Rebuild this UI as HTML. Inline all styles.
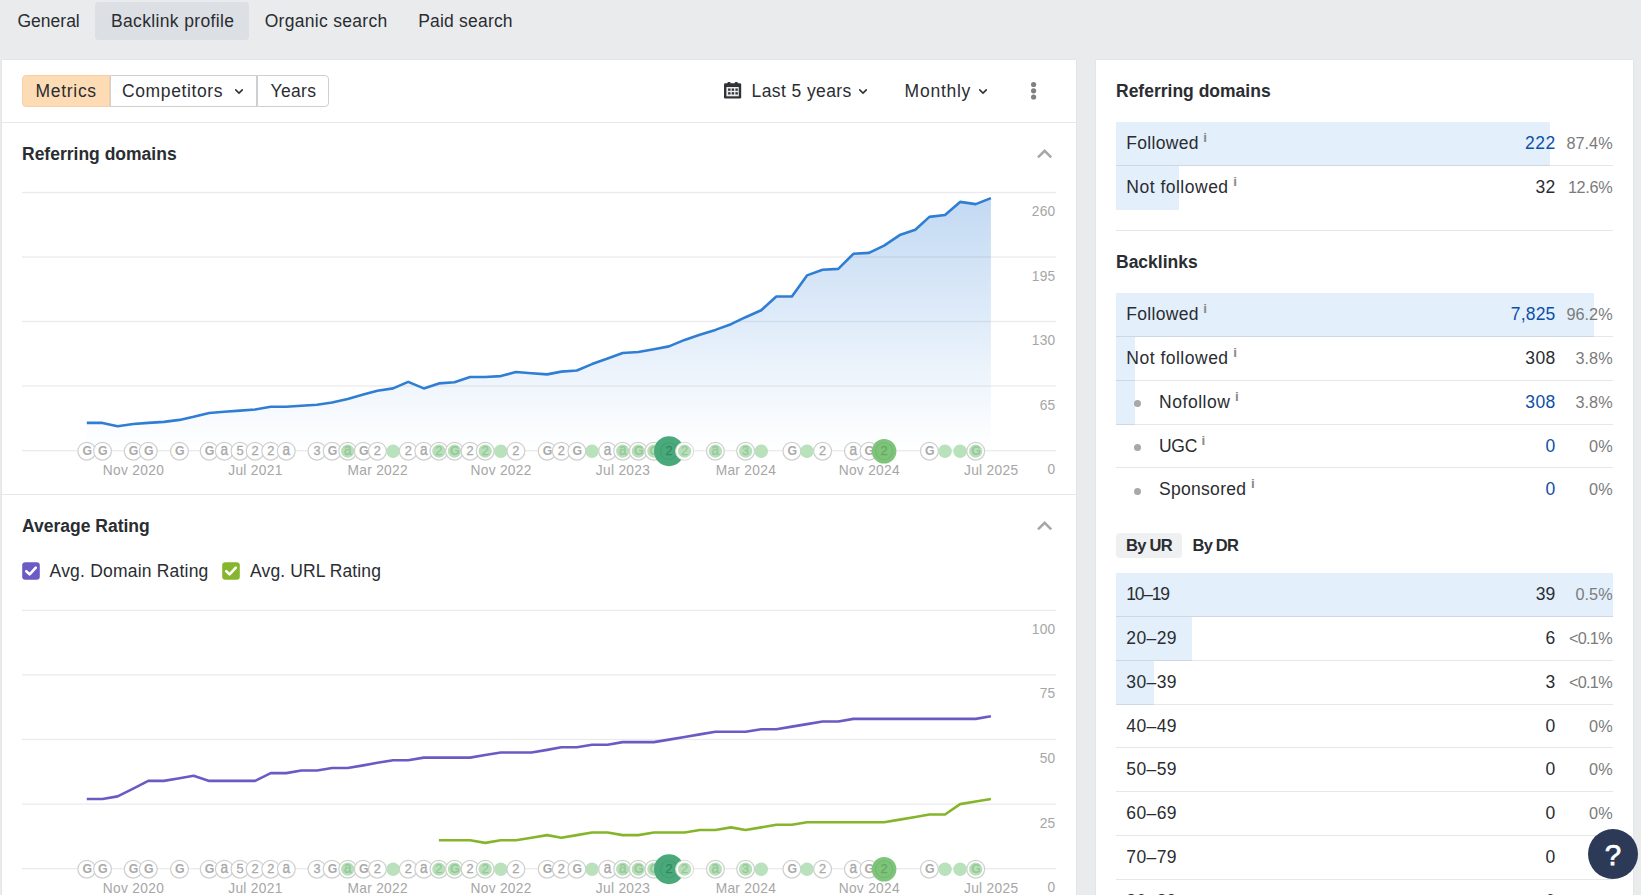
<!DOCTYPE html>
<html><head><meta charset="utf-8"><title>Backlink profile</title>
<style>
*{margin:0;padding:0;box-sizing:border-box}
html,body{width:1641px;height:895px;overflow:hidden;background:#e9ebed;font-family:"Liberation Sans",sans-serif}
body{position:relative}
.t{position:absolute;line-height:20px;white-space:nowrap}
.card{position:absolute;background:#fff;box-shadow:0 0 1.5px rgba(0,0,0,0.10)}
.tabbg{position:absolute;left:95px;top:2px;width:154px;height:38px;border-radius:4px;background:#dcdfe3}
.hline{position:absolute;height:1px;background:#e7e8e9}
.rline{position:absolute;height:1px;background:rgba(0,0,0,0.095)}
.btn{position:absolute;background:#fff;border:1.25px solid #cfcfcf}
.btn.metrics{background:#fddcb5;border-color:#f8cfa4;border-radius:4px 0 0 4px}
.btn.last{border-radius:0 4px 4px 0}
.ic{position:absolute;overflow:visible}
.charts{position:absolute;left:0;top:0}
.bar{position:absolute;background:#e3effb}
.dot{position:absolute;width:7px;height:7px;border-radius:50%;background:#a8a8a8}
.inf{font-style:normal;font-size:13.5px;color:#8a8a8a;position:relative;top:-7.3px;margin-left:4.6px;font-weight:700;letter-spacing:0}
.pill{position:absolute;background:#eff0f1;border-radius:4px}
.help{position:absolute;left:1588px;top:829px;width:50px;height:50px;border-radius:50%;background:#2c3a57;color:#fff;text-align:center}
.help span{font-size:29.5px;font-weight:400;-webkit-text-stroke:0.75px #fff;line-height:51px;display:block}
</style></head>
<body>
<div class="tabbg"></div>
<span class="t" style="left:17.5px;top:11.00px;font-size:17.5px;font-weight:400;color:#2a2d31;">General</span>
<span class="t" style="left:111px;top:11.00px;font-size:17.5px;font-weight:400;color:#2a2d31;letter-spacing:0.35px;">Backlink profile</span>
<span class="t" style="left:264.7px;top:11.00px;font-size:17.5px;font-weight:400;color:#2a2d31;letter-spacing:0.3px;">Organic search</span>
<span class="t" style="left:418.2px;top:11.00px;font-size:17.5px;font-weight:400;color:#2a2d31;letter-spacing:0.2px;">Paid search</span>
<div class="card" style="left:2px;top:60px;width:1074px;height:840px"></div>
<div class="hline" style="left:2px;top:122px;width:1074px"></div>
<div class="hline" style="left:2px;top:494px;width:1074px"></div>
<div class="btn metrics" style="left:22px;top:75px;width:88px;height:32px"></div>
<div class="btn" style="left:109.6px;top:75px;width:147.7px;height:32px"></div>
<div class="btn last" style="left:257.3px;top:75px;width:71.6px;height:32px"></div>
<span class="t" style="left:35.6px;top:81.00px;font-size:17.5px;font-weight:400;color:#2a2d31;letter-spacing:0.68px;">Metrics</span>
<span class="t" style="left:122.0px;top:81.00px;font-size:17.5px;font-weight:400;color:#2a2d31;letter-spacing:0.62px;">Competitors</span>
<span class="t" style="left:270.5px;top:81.00px;font-size:17.5px;font-weight:400;color:#2a2d31;letter-spacing:0.35px;">Years</span>
<svg class="ic" style="left:233px;top:87px" width="12" height="9" viewBox="0 0 12 9"><path d="M2.7 2.9 L6 6.1 L9.3 2.9" fill="none" stroke="#333" stroke-width="1.55" stroke-linecap="round" stroke-linejoin="round"/></svg>
<svg class="ic" style="left:724px;top:81.6px" width="17.2" height="16.6" viewBox="0 0 17.2 16.6"><rect x="0" y="1.3" width="17.2" height="15.3" rx="1.3" fill="#2f3237"/><rect x="3.5" y="0" width="3" height="2.4" rx="0.8" fill="#2f3237"/><rect x="10.8" y="0" width="3" height="2.4" rx="0.8" fill="#2f3237"/><rect x="2.4" y="5" width="12.4" height="9.3" fill="#ededed"/><g fill="#2f3237"><rect x="4.1" y="6.5" width="2.4" height="2.3"/><rect x="7.7" y="6.5" width="2.4" height="2.3"/><rect x="11.4" y="6.5" width="2.4" height="2.3"/><rect x="4.1" y="10.2" width="2.4" height="2.3"/><rect x="7.7" y="10.2" width="2.4" height="2.3"/><rect x="11.4" y="10.2" width="2.4" height="2.3"/></g></svg>
<span class="t" style="left:751.6px;top:81.00px;font-size:17.5px;font-weight:400;color:#2a2d31;letter-spacing:0.4px;">Last 5 years</span>
<svg class="ic" style="left:857px;top:87px" width="12" height="9" viewBox="0 0 12 9"><path d="M2.7 2.9 L6 6.1 L9.3 2.9" fill="none" stroke="#333" stroke-width="1.55" stroke-linecap="round" stroke-linejoin="round"/></svg>
<span class="t" style="left:904.6px;top:81.00px;font-size:17.5px;font-weight:400;color:#2a2d31;letter-spacing:0.75px;">Monthly</span>
<svg class="ic" style="left:977px;top:87px" width="12" height="9" viewBox="0 0 12 9"><path d="M2.7 2.9 L6 6.1 L9.3 2.9" fill="none" stroke="#333" stroke-width="1.55" stroke-linecap="round" stroke-linejoin="round"/></svg>
<svg class="ic" style="left:1029px;top:80px" width="10" height="22" viewBox="0 0 10 22"><circle cx="4.6" cy="4.5" r="2.6" fill="#808080"/><circle cx="4.6" cy="10.8" r="2.6" fill="#808080"/><circle cx="4.6" cy="17.0" r="2.6" fill="#808080"/></svg>
<span class="t" style="left:22px;top:144.00px;font-size:17.5px;font-weight:700;color:#2a2d31;">Referring domains</span>
<span class="t" style="left:22px;top:516.00px;font-size:17.5px;font-weight:700;color:#2a2d31;">Average Rating</span>
<svg class="ic" style="left:1035px;top:146.8px" width="19" height="14" viewBox="0 0 19 14"><path d="M3 10.3 L9.6 3.8 L16.2 10.3" fill="none" stroke="#a6a6a6" stroke-width="2.5" stroke-linecap="butt" stroke-linejoin="miter"/></svg>
<svg class="ic" style="left:1035px;top:518.8px" width="19" height="14" viewBox="0 0 19 14"><path d="M3 10.3 L9.6 3.8 L16.2 10.3" fill="none" stroke="#a6a6a6" stroke-width="2.5" stroke-linecap="butt" stroke-linejoin="miter"/></svg>
<svg class="ic" style="left:22px;top:562px" width="18" height="18" viewBox="0 0 18 18"><rect x="0.2" y="0.2" width="17.6" height="17.6" rx="3.2" fill="#6b5cc5"/><path d="M4.3 9.2 L7.6 12.4 L13.8 5.6" fill="none" stroke="#fff" stroke-width="2.6" stroke-linecap="round" stroke-linejoin="round"/></svg>
<span class="t" style="left:49.6px;top:561.00px;font-size:17.5px;font-weight:400;color:#2a2d31;letter-spacing:0.2px;">Avg. Domain Rating</span>
<svg class="ic" style="left:222px;top:562px" width="18" height="18" viewBox="0 0 18 18"><rect x="0.2" y="0.2" width="17.6" height="17.6" rx="3.2" fill="#86b62c"/><path d="M4.3 9.2 L7.6 12.4 L13.8 5.6" fill="none" stroke="#fff" stroke-width="2.6" stroke-linecap="round" stroke-linejoin="round"/></svg>
<span class="t" style="left:250.1px;top:561.00px;font-size:17.5px;font-weight:400;color:#2a2d31;letter-spacing:0.1px;">Avg. URL Rating</span>
<svg class="charts" width="1076" height="895" viewBox="0 0 1076 895" font-family="Liberation Sans, sans-serif">
<defs>
<linearGradient id="ag" gradientUnits="userSpaceOnUse" x1="0" y1="192" x2="0" y2="450">
<stop offset="0" stop-color="#3d86d6" stop-opacity="0.32"/>
<stop offset="0.5" stop-color="#4a8fdc" stop-opacity="0.175"/>
<stop offset="1" stop-color="#5a98e0" stop-opacity="0.0"/>
</linearGradient>
</defs>
<rect x="22" y="191.85" width="1034" height="1.3" fill="#ebebeb"/>
<rect x="22" y="256.35" width="1034" height="1.3" fill="#ebebeb"/>
<rect x="22" y="320.85" width="1034" height="1.3" fill="#ebebeb"/>
<rect x="22" y="385.35" width="1034" height="1.3" fill="#ebebeb"/>
<rect x="22" y="450.05" width="1034" height="1.3" fill="#ebebeb"/>
<path d="M86.8,422.9 L102.5,422.9 L117.6,426.3 L133.2,424.0 L148.3,422.9 L163.9,421.9 L179.5,419.9 L193.6,416.8 L209.2,413.0 L224.3,411.8 L240.0,410.6 L255.1,409.5 L270.7,406.8 L286.3,406.8 L301.4,405.7 L317.0,404.8 L332.1,402.5 L347.7,399.1 L363.3,394.5 L377.4,390.7 L393.1,388.4 L408.2,381.9 L423.8,388.4 L438.9,383.4 L454.5,382.2 L470.1,377.0 L485.2,377.0 L500.8,376.1 L515.9,372.0 L531.5,373.2 L547.2,374.4 L561.3,371.6 L576.9,370.5 L592.0,364.1 L607.6,358.6 L622.7,353.0 L638.3,352.0 L653.9,349.2 L669.0,346.4 L684.6,339.9 L699.8,334.7 L715.4,329.9 L731.0,324.2 L745.6,317.2 L761.2,310.2 L776.3,296.5 L791.9,296.5 L807.0,275.4 L822.6,269.8 L838.3,268.9 L853.4,253.8 L869.0,252.9 L884.1,245.7 L899.7,235.1 L915.3,229.7 L929.4,216.9 L945.0,215.0 L960.1,201.9 L975.7,204.1 L990.9,198.1 L990.9,450.7 L86.8,450.7 Z" fill="url(#ag)"/>
<path d="M86.8,422.9 L102.5,422.9 L117.6,426.3 L133.2,424.0 L148.3,422.9 L163.9,421.9 L179.5,419.9 L193.6,416.8 L209.2,413.0 L224.3,411.8 L240.0,410.6 L255.1,409.5 L270.7,406.8 L286.3,406.8 L301.4,405.7 L317.0,404.8 L332.1,402.5 L347.7,399.1 L363.3,394.5 L377.4,390.7 L393.1,388.4 L408.2,381.9 L423.8,388.4 L438.9,383.4 L454.5,382.2 L470.1,377.0 L485.2,377.0 L500.8,376.1 L515.9,372.0 L531.5,373.2 L547.2,374.4 L561.3,371.6 L576.9,370.5 L592.0,364.1 L607.6,358.6 L622.7,353.0 L638.3,352.0 L653.9,349.2 L669.0,346.4 L684.6,339.9 L699.8,334.7 L715.4,329.9 L731.0,324.2 L745.6,317.2 L761.2,310.2 L776.3,296.5 L791.9,296.5 L807.0,275.4 L822.6,269.8 L838.3,268.9 L853.4,253.8 L869.0,252.9 L884.1,245.7 L899.7,235.1 L915.3,229.7 L929.4,216.9 L945.0,215.0 L960.1,201.9 L975.7,204.1 L990.9,198.1" fill="none" stroke="#2f7ed3" stroke-width="2.6" stroke-linejoin="round" stroke-linecap="butt"/>
<text x="1055.5" y="216.0" font-size="13.75" fill="#a6a6a6" text-anchor="end" letter-spacing="0.25">260</text>
<text x="1055.5" y="280.5" font-size="13.75" fill="#a6a6a6" text-anchor="end" letter-spacing="0.25">195</text>
<text x="1055.5" y="345.0" font-size="13.75" fill="#a6a6a6" text-anchor="end" letter-spacing="0.25">130</text>
<text x="1055.5" y="409.5" font-size="13.75" fill="#a6a6a6" text-anchor="end" letter-spacing="0.25">65</text>
<text x="1055.5" y="474.2" font-size="13.75" fill="#a6a6a6" text-anchor="end" letter-spacing="0.25">0</text>
<circle cx="86.8" cy="451.2" r="8.9" fill="#fff" stroke="#cfcfcf" stroke-width="1.2"/>
<text x="87.2" y="454.7" font-size="12.3" font-weight="700" fill="#a9a9a9" text-anchor="middle">G</text>
<circle cx="102.5" cy="451.2" r="8.9" fill="#fff" stroke="#cfcfcf" stroke-width="1.2"/>
<text x="102.9" y="454.7" font-size="12.3" font-weight="700" fill="#a9a9a9" text-anchor="middle">G</text>
<circle cx="133.2" cy="451.2" r="8.9" fill="#fff" stroke="#cfcfcf" stroke-width="1.2"/>
<text x="133.6" y="454.7" font-size="12.3" font-weight="700" fill="#a9a9a9" text-anchor="middle">G</text>
<circle cx="148.3" cy="451.2" r="8.9" fill="#fff" stroke="#cfcfcf" stroke-width="1.2"/>
<text x="148.7" y="454.7" font-size="12.3" font-weight="700" fill="#a9a9a9" text-anchor="middle">G</text>
<circle cx="179.5" cy="451.2" r="8.9" fill="#fff" stroke="#cfcfcf" stroke-width="1.2"/>
<text x="179.9" y="454.7" font-size="12.3" font-weight="700" fill="#a9a9a9" text-anchor="middle">G</text>
<circle cx="209.2" cy="451.2" r="8.9" fill="#fff" stroke="#cfcfcf" stroke-width="1.2"/>
<text x="209.6" y="454.7" font-size="12.3" font-weight="700" fill="#a9a9a9" text-anchor="middle">G</text>
<circle cx="224.3" cy="451.2" r="8.9" fill="#fff" stroke="#cfcfcf" stroke-width="1.2"/>
<text transform="translate(224.3,455.0) scale(0.83,1)" font-size="16.4" font-weight="400" fill="#a9a9a9" stroke="#a9a9a9" stroke-width="0.4" text-anchor="middle">a</text>
<circle cx="240.0" cy="451.2" r="8.9" fill="#fff" stroke="#cfcfcf" stroke-width="1.2"/>
<text x="240.0" y="454.7" font-size="12.8" font-weight="400" fill="#a9a9a9" stroke="#a9a9a9" stroke-width="0.3" text-anchor="middle">5</text>
<circle cx="255.1" cy="451.2" r="8.9" fill="#fff" stroke="#cfcfcf" stroke-width="1.2"/>
<text x="255.1" y="454.7" font-size="12.8" font-weight="400" fill="#a9a9a9" stroke="#a9a9a9" stroke-width="0.3" text-anchor="middle">2</text>
<circle cx="270.7" cy="451.2" r="8.9" fill="#fff" stroke="#cfcfcf" stroke-width="1.2"/>
<text x="270.7" y="454.7" font-size="12.8" font-weight="400" fill="#a9a9a9" stroke="#a9a9a9" stroke-width="0.3" text-anchor="middle">2</text>
<circle cx="286.3" cy="451.2" r="8.9" fill="#fff" stroke="#cfcfcf" stroke-width="1.2"/>
<text transform="translate(286.3,455.0) scale(0.83,1)" font-size="16.4" font-weight="400" fill="#a9a9a9" stroke="#a9a9a9" stroke-width="0.4" text-anchor="middle">a</text>
<circle cx="317.0" cy="451.2" r="8.9" fill="#fff" stroke="#cfcfcf" stroke-width="1.2"/>
<text x="317.0" y="454.7" font-size="12.8" font-weight="400" fill="#a9a9a9" stroke="#a9a9a9" stroke-width="0.3" text-anchor="middle">3</text>
<circle cx="332.1" cy="451.2" r="8.9" fill="#fff" stroke="#cfcfcf" stroke-width="1.2"/>
<text x="332.5" y="454.7" font-size="12.3" font-weight="700" fill="#a9a9a9" text-anchor="middle">G</text>
<circle cx="347.7" cy="451.2" r="8.9" fill="#fff" stroke="#cfcfcf" stroke-width="1.2"/>
<circle cx="347.7" cy="451.2" r="6.6" fill="#b7e0b9"/>
<text transform="translate(347.7,455.0) scale(0.83,1)" font-size="16.4" font-weight="400" fill="#98c79b" stroke="#98c79b" stroke-width="0.4" text-anchor="middle">a</text>
<circle cx="363.3" cy="451.2" r="8.9" fill="#fff" stroke="#cfcfcf" stroke-width="1.2"/>
<text x="363.7" y="454.7" font-size="12.3" font-weight="700" fill="#a9a9a9" text-anchor="middle">G</text>
<circle cx="377.4" cy="451.2" r="8.9" fill="#fff" stroke="#cfcfcf" stroke-width="1.2"/>
<text x="377.4" y="454.7" font-size="12.8" font-weight="400" fill="#a9a9a9" stroke="#a9a9a9" stroke-width="0.3" text-anchor="middle">2</text>
<circle cx="393.1" cy="451.2" r="6.8" fill="#b9e1bb"/>
<circle cx="408.2" cy="451.2" r="8.9" fill="#fff" stroke="#cfcfcf" stroke-width="1.2"/>
<text x="408.2" y="454.7" font-size="12.8" font-weight="400" fill="#a9a9a9" stroke="#a9a9a9" stroke-width="0.3" text-anchor="middle">2</text>
<circle cx="423.8" cy="451.2" r="8.9" fill="#fff" stroke="#cfcfcf" stroke-width="1.2"/>
<text transform="translate(423.8,455.0) scale(0.83,1)" font-size="16.4" font-weight="400" fill="#a9a9a9" stroke="#a9a9a9" stroke-width="0.4" text-anchor="middle">a</text>
<circle cx="438.9" cy="451.2" r="8.9" fill="#fff" stroke="#cfcfcf" stroke-width="1.2"/>
<circle cx="438.9" cy="451.2" r="6.6" fill="#b7e0b9"/>
<text x="438.9" y="454.7" font-size="12.8" font-weight="400" fill="#98c79b" stroke="#98c79b" stroke-width="0.3" text-anchor="middle">2</text>
<circle cx="454.5" cy="451.2" r="8.9" fill="#fff" stroke="#cfcfcf" stroke-width="1.2"/>
<circle cx="454.5" cy="451.2" r="6.6" fill="#b7e0b9"/>
<text x="454.9" y="454.7" font-size="12.3" font-weight="700" fill="#98c79b" text-anchor="middle">G</text>
<circle cx="470.1" cy="451.2" r="8.9" fill="#fff" stroke="#cfcfcf" stroke-width="1.2"/>
<text x="470.1" y="454.7" font-size="12.8" font-weight="400" fill="#a9a9a9" stroke="#a9a9a9" stroke-width="0.3" text-anchor="middle">2</text>
<circle cx="485.2" cy="451.2" r="8.9" fill="#fff" stroke="#cfcfcf" stroke-width="1.2"/>
<circle cx="485.2" cy="451.2" r="6.6" fill="#b7e0b9"/>
<text x="485.2" y="454.7" font-size="12.8" font-weight="400" fill="#98c79b" stroke="#98c79b" stroke-width="0.3" text-anchor="middle">2</text>
<circle cx="500.8" cy="451.2" r="6.8" fill="#b9e1bb"/>
<circle cx="515.9" cy="451.2" r="8.9" fill="#fff" stroke="#cfcfcf" stroke-width="1.2"/>
<text x="515.9" y="454.7" font-size="12.8" font-weight="400" fill="#a9a9a9" stroke="#a9a9a9" stroke-width="0.3" text-anchor="middle">2</text>
<circle cx="547.2" cy="451.2" r="8.9" fill="#fff" stroke="#cfcfcf" stroke-width="1.2"/>
<text x="547.6" y="454.7" font-size="12.3" font-weight="700" fill="#a9a9a9" text-anchor="middle">G</text>
<circle cx="561.3" cy="451.2" r="8.9" fill="#fff" stroke="#cfcfcf" stroke-width="1.2"/>
<text x="561.3" y="454.7" font-size="12.8" font-weight="400" fill="#a9a9a9" stroke="#a9a9a9" stroke-width="0.3" text-anchor="middle">2</text>
<circle cx="576.9" cy="451.2" r="8.9" fill="#fff" stroke="#cfcfcf" stroke-width="1.2"/>
<text x="577.3" y="454.7" font-size="12.3" font-weight="700" fill="#a9a9a9" text-anchor="middle">G</text>
<circle cx="592.0" cy="451.2" r="6.8" fill="#b9e1bb"/>
<circle cx="607.6" cy="451.2" r="8.9" fill="#fff" stroke="#cfcfcf" stroke-width="1.2"/>
<text transform="translate(607.6,455.0) scale(0.83,1)" font-size="16.4" font-weight="400" fill="#a9a9a9" stroke="#a9a9a9" stroke-width="0.4" text-anchor="middle">a</text>
<circle cx="622.7" cy="451.2" r="8.9" fill="#fff" stroke="#cfcfcf" stroke-width="1.2"/>
<circle cx="622.7" cy="451.2" r="6.6" fill="#b7e0b9"/>
<text transform="translate(622.7,455.0) scale(0.83,1)" font-size="16.4" font-weight="400" fill="#98c79b" stroke="#98c79b" stroke-width="0.4" text-anchor="middle">a</text>
<circle cx="638.3" cy="451.2" r="8.9" fill="#fff" stroke="#cfcfcf" stroke-width="1.2"/>
<circle cx="638.3" cy="451.2" r="6.6" fill="#b7e0b9"/>
<text x="638.7" y="454.7" font-size="12.3" font-weight="700" fill="#98c79b" text-anchor="middle">G</text>
<circle cx="653.9" cy="451.2" r="8.9" fill="#fff" stroke="#cfcfcf" stroke-width="1.2"/>
<circle cx="653.9" cy="451.2" r="6.6" fill="#b7e0b9"/>
<text x="654.3" y="454.7" font-size="12.3" font-weight="700" fill="#98c79b" text-anchor="middle">G</text>
<circle cx="669.0" cy="451.2" r="15" fill="#4aa97a"/>
<circle cx="669.0" cy="451.2" r="8.5" fill="none" stroke="#41a072" stroke-width="1.1"/>
<text x="669.0" y="454.7" font-size="12.8" font-weight="400" fill="#2f8a5f" stroke="#2f8a5f" stroke-width="0.3" text-anchor="middle">2</text>
<circle cx="684.6" cy="451.2" r="9" fill="#fff" stroke="#d8d8d8" stroke-width="1"/>
<circle cx="684.6" cy="451.2" r="6.6" fill="#b7e0b9"/>
<text x="684.6" y="454.7" font-size="12.8" font-weight="400" fill="#98c79b" stroke="#98c79b" stroke-width="0.3" text-anchor="middle">2</text>
<circle cx="715.4" cy="451.2" r="8.9" fill="#fff" stroke="#cfcfcf" stroke-width="1.2"/>
<circle cx="715.4" cy="451.2" r="6.6" fill="#b7e0b9"/>
<text transform="translate(715.4,455.0) scale(0.83,1)" font-size="16.4" font-weight="400" fill="#98c79b" stroke="#98c79b" stroke-width="0.4" text-anchor="middle">a</text>
<circle cx="745.6" cy="451.2" r="8.9" fill="#fff" stroke="#cfcfcf" stroke-width="1.2"/>
<circle cx="745.6" cy="451.2" r="6.6" fill="#b7e0b9"/>
<text x="745.6" y="454.7" font-size="12.8" font-weight="400" fill="#98c79b" stroke="#98c79b" stroke-width="0.3" text-anchor="middle">3</text>
<circle cx="761.2" cy="451.2" r="6.8" fill="#b9e1bb"/>
<circle cx="791.9" cy="451.2" r="8.9" fill="#fff" stroke="#cfcfcf" stroke-width="1.2"/>
<text x="792.3" y="454.7" font-size="12.3" font-weight="700" fill="#a9a9a9" text-anchor="middle">G</text>
<circle cx="807.0" cy="451.2" r="6.8" fill="#b9e1bb"/>
<circle cx="822.6" cy="451.2" r="8.9" fill="#fff" stroke="#cfcfcf" stroke-width="1.2"/>
<text x="822.6" y="454.7" font-size="12.8" font-weight="400" fill="#a9a9a9" stroke="#a9a9a9" stroke-width="0.3" text-anchor="middle">2</text>
<circle cx="853.4" cy="451.2" r="8.9" fill="#fff" stroke="#cfcfcf" stroke-width="1.2"/>
<text transform="translate(853.4,455.0) scale(0.83,1)" font-size="16.4" font-weight="400" fill="#a9a9a9" stroke="#a9a9a9" stroke-width="0.4" text-anchor="middle">a</text>
<circle cx="869.0" cy="451.2" r="8.9" fill="#fff" stroke="#cfcfcf" stroke-width="1.2"/>
<text x="869.4" y="454.7" font-size="12.3" font-weight="700" fill="#a9a9a9" text-anchor="middle">G</text>
<circle cx="884.1" cy="451.2" r="12.3" fill="#7fc47b"/>
<circle cx="884.1" cy="451.2" r="8.5" fill="none" stroke="#74b970" stroke-width="1.1"/>
<text x="884.1" y="454.7" font-size="12.8" font-weight="400" fill="#63a95f" stroke="#63a95f" stroke-width="0.3" text-anchor="middle">2</text>
<circle cx="929.4" cy="451.2" r="8.9" fill="#fff" stroke="#cfcfcf" stroke-width="1.2"/>
<text x="929.8" y="454.7" font-size="12.3" font-weight="700" fill="#a9a9a9" text-anchor="middle">G</text>
<circle cx="945.0" cy="451.2" r="6.8" fill="#b9e1bb"/>
<circle cx="960.1" cy="451.2" r="6.8" fill="#b9e1bb"/>
<circle cx="975.7" cy="451.2" r="8.9" fill="#fff" stroke="#cfcfcf" stroke-width="1.2"/>
<circle cx="975.7" cy="451.2" r="6.6" fill="#b7e0b9"/>
<text x="976.1" y="454.7" font-size="12.3" font-weight="700" fill="#98c79b" text-anchor="middle">G</text>
<text x="133.5" y="474.9" font-size="13.75" fill="#a6a6a6" text-anchor="middle" letter-spacing="0.3">Nov 2020</text>
<text x="255.4" y="474.9" font-size="13.75" fill="#a6a6a6" text-anchor="middle" letter-spacing="0.3">Jul 2021</text>
<text x="377.7" y="474.9" font-size="13.75" fill="#a6a6a6" text-anchor="middle" letter-spacing="0.3">Mar 2022</text>
<text x="501.1" y="474.9" font-size="13.75" fill="#a6a6a6" text-anchor="middle" letter-spacing="0.3">Nov 2022</text>
<text x="623.0" y="474.9" font-size="13.75" fill="#a6a6a6" text-anchor="middle" letter-spacing="0.3">Jul 2023</text>
<text x="745.9" y="474.9" font-size="13.75" fill="#a6a6a6" text-anchor="middle" letter-spacing="0.3">Mar 2024</text>
<text x="869.3" y="474.9" font-size="13.75" fill="#a6a6a6" text-anchor="middle" letter-spacing="0.3">Nov 2024</text>
<text x="991.2" y="474.9" font-size="13.75" fill="#a6a6a6" text-anchor="middle" letter-spacing="0.3">Jul 2025</text>
<rect x="22" y="609.75" width="1034" height="1.3" fill="#ebebeb"/>
<rect x="22" y="674.25" width="1034" height="1.3" fill="#ebebeb"/>
<rect x="22" y="738.85" width="1034" height="1.3" fill="#ebebeb"/>
<rect x="22" y="803.45" width="1034" height="1.3" fill="#ebebeb"/>
<rect x="22" y="868.05" width="1034" height="1.3" fill="#ebebeb"/>
<path d="M86.8,799.0 L102.5,799.0 L117.6,796.4 L133.2,788.6 L148.3,780.9 L163.9,780.9 L179.5,778.3 L193.6,775.7 L209.2,780.9 L224.3,780.9 L240.0,780.9 L255.1,780.9 L270.7,773.1 L286.3,773.1 L301.4,770.5 L317.0,770.5 L332.1,768.0 L347.7,768.0 L363.3,765.4 L377.4,762.8 L393.1,760.2 L408.2,760.2 L423.8,757.6 L438.9,757.6 L454.5,757.6 L470.1,757.6 L485.2,755.0 L500.8,752.5 L515.9,752.5 L531.5,752.5 L547.2,749.9 L561.3,747.3 L576.9,747.3 L592.0,744.7 L607.6,744.7 L622.7,742.1 L638.3,742.1 L653.9,742.1 L669.0,739.6 L684.6,737.0 L699.8,734.4 L715.4,731.8 L731.0,731.8 L745.6,731.8 L761.2,729.2 L776.3,729.2 L791.9,726.6 L807.0,724.1 L822.6,721.5 L838.3,721.5 L853.4,718.9 L869.0,718.9 L884.1,718.9 L899.7,718.9 L915.3,718.9 L929.4,718.9 L945.0,718.9 L960.1,718.9 L975.7,718.9 L990.9,716.3" fill="none" stroke="#6a5bc4" stroke-width="2.6" stroke-linejoin="round"/>
<path d="M438.9,840.3 L454.5,840.3 L470.1,840.3 L485.2,842.9 L500.8,840.3 L515.9,840.3 L531.5,837.7 L547.2,835.1 L561.3,837.7 L576.9,835.1 L592.0,832.5 L607.6,832.5 L622.7,835.1 L638.3,835.1 L653.9,832.5 L669.0,832.5 L684.6,832.5 L699.8,830.0 L715.4,830.0 L731.0,827.4 L745.6,830.0 L761.2,827.4 L776.3,824.8 L791.9,824.8 L807.0,822.2 L822.6,822.2 L838.3,822.2 L853.4,822.2 L869.0,822.2 L884.1,822.2 L899.7,819.6 L915.3,817.0 L929.4,814.5 L945.0,814.5 L960.1,804.1 L975.7,801.5 L990.9,799.0" fill="none" stroke="#85b52a" stroke-width="2.6" stroke-linejoin="round"/>
<text x="1055.5" y="633.9" font-size="13.75" fill="#a6a6a6" text-anchor="end" letter-spacing="0.25">100</text>
<text x="1055.5" y="698.4" font-size="13.75" fill="#a6a6a6" text-anchor="end" letter-spacing="0.25">75</text>
<text x="1055.5" y="763.0" font-size="13.75" fill="#a6a6a6" text-anchor="end" letter-spacing="0.25">50</text>
<text x="1055.5" y="827.6" font-size="13.75" fill="#a6a6a6" text-anchor="end" letter-spacing="0.25">25</text>
<text x="1055.5" y="892.2" font-size="13.75" fill="#a6a6a6" text-anchor="end" letter-spacing="0.25">0</text>
<circle cx="86.8" cy="869.2" r="8.9" fill="#fff" stroke="#cfcfcf" stroke-width="1.2"/>
<text x="87.2" y="872.7" font-size="12.3" font-weight="700" fill="#a9a9a9" text-anchor="middle">G</text>
<circle cx="102.5" cy="869.2" r="8.9" fill="#fff" stroke="#cfcfcf" stroke-width="1.2"/>
<text x="102.9" y="872.7" font-size="12.3" font-weight="700" fill="#a9a9a9" text-anchor="middle">G</text>
<circle cx="133.2" cy="869.2" r="8.9" fill="#fff" stroke="#cfcfcf" stroke-width="1.2"/>
<text x="133.6" y="872.7" font-size="12.3" font-weight="700" fill="#a9a9a9" text-anchor="middle">G</text>
<circle cx="148.3" cy="869.2" r="8.9" fill="#fff" stroke="#cfcfcf" stroke-width="1.2"/>
<text x="148.7" y="872.7" font-size="12.3" font-weight="700" fill="#a9a9a9" text-anchor="middle">G</text>
<circle cx="179.5" cy="869.2" r="8.9" fill="#fff" stroke="#cfcfcf" stroke-width="1.2"/>
<text x="179.9" y="872.7" font-size="12.3" font-weight="700" fill="#a9a9a9" text-anchor="middle">G</text>
<circle cx="209.2" cy="869.2" r="8.9" fill="#fff" stroke="#cfcfcf" stroke-width="1.2"/>
<text x="209.6" y="872.7" font-size="12.3" font-weight="700" fill="#a9a9a9" text-anchor="middle">G</text>
<circle cx="224.3" cy="869.2" r="8.9" fill="#fff" stroke="#cfcfcf" stroke-width="1.2"/>
<text transform="translate(224.3,873.0) scale(0.83,1)" font-size="16.4" font-weight="400" fill="#a9a9a9" stroke="#a9a9a9" stroke-width="0.4" text-anchor="middle">a</text>
<circle cx="240.0" cy="869.2" r="8.9" fill="#fff" stroke="#cfcfcf" stroke-width="1.2"/>
<text x="240.0" y="872.7" font-size="12.8" font-weight="400" fill="#a9a9a9" stroke="#a9a9a9" stroke-width="0.3" text-anchor="middle">5</text>
<circle cx="255.1" cy="869.2" r="8.9" fill="#fff" stroke="#cfcfcf" stroke-width="1.2"/>
<text x="255.1" y="872.7" font-size="12.8" font-weight="400" fill="#a9a9a9" stroke="#a9a9a9" stroke-width="0.3" text-anchor="middle">2</text>
<circle cx="270.7" cy="869.2" r="8.9" fill="#fff" stroke="#cfcfcf" stroke-width="1.2"/>
<text x="270.7" y="872.7" font-size="12.8" font-weight="400" fill="#a9a9a9" stroke="#a9a9a9" stroke-width="0.3" text-anchor="middle">2</text>
<circle cx="286.3" cy="869.2" r="8.9" fill="#fff" stroke="#cfcfcf" stroke-width="1.2"/>
<text transform="translate(286.3,873.0) scale(0.83,1)" font-size="16.4" font-weight="400" fill="#a9a9a9" stroke="#a9a9a9" stroke-width="0.4" text-anchor="middle">a</text>
<circle cx="317.0" cy="869.2" r="8.9" fill="#fff" stroke="#cfcfcf" stroke-width="1.2"/>
<text x="317.0" y="872.7" font-size="12.8" font-weight="400" fill="#a9a9a9" stroke="#a9a9a9" stroke-width="0.3" text-anchor="middle">3</text>
<circle cx="332.1" cy="869.2" r="8.9" fill="#fff" stroke="#cfcfcf" stroke-width="1.2"/>
<text x="332.5" y="872.7" font-size="12.3" font-weight="700" fill="#a9a9a9" text-anchor="middle">G</text>
<circle cx="347.7" cy="869.2" r="8.9" fill="#fff" stroke="#cfcfcf" stroke-width="1.2"/>
<circle cx="347.7" cy="869.2" r="6.6" fill="#b7e0b9"/>
<text transform="translate(347.7,873.0) scale(0.83,1)" font-size="16.4" font-weight="400" fill="#98c79b" stroke="#98c79b" stroke-width="0.4" text-anchor="middle">a</text>
<circle cx="363.3" cy="869.2" r="8.9" fill="#fff" stroke="#cfcfcf" stroke-width="1.2"/>
<text x="363.7" y="872.7" font-size="12.3" font-weight="700" fill="#a9a9a9" text-anchor="middle">G</text>
<circle cx="377.4" cy="869.2" r="8.9" fill="#fff" stroke="#cfcfcf" stroke-width="1.2"/>
<text x="377.4" y="872.7" font-size="12.8" font-weight="400" fill="#a9a9a9" stroke="#a9a9a9" stroke-width="0.3" text-anchor="middle">2</text>
<circle cx="393.1" cy="869.2" r="6.8" fill="#b9e1bb"/>
<circle cx="408.2" cy="869.2" r="8.9" fill="#fff" stroke="#cfcfcf" stroke-width="1.2"/>
<text x="408.2" y="872.7" font-size="12.8" font-weight="400" fill="#a9a9a9" stroke="#a9a9a9" stroke-width="0.3" text-anchor="middle">2</text>
<circle cx="423.8" cy="869.2" r="8.9" fill="#fff" stroke="#cfcfcf" stroke-width="1.2"/>
<text transform="translate(423.8,873.0) scale(0.83,1)" font-size="16.4" font-weight="400" fill="#a9a9a9" stroke="#a9a9a9" stroke-width="0.4" text-anchor="middle">a</text>
<circle cx="438.9" cy="869.2" r="8.9" fill="#fff" stroke="#cfcfcf" stroke-width="1.2"/>
<circle cx="438.9" cy="869.2" r="6.6" fill="#b7e0b9"/>
<text x="438.9" y="872.7" font-size="12.8" font-weight="400" fill="#98c79b" stroke="#98c79b" stroke-width="0.3" text-anchor="middle">2</text>
<circle cx="454.5" cy="869.2" r="8.9" fill="#fff" stroke="#cfcfcf" stroke-width="1.2"/>
<circle cx="454.5" cy="869.2" r="6.6" fill="#b7e0b9"/>
<text x="454.9" y="872.7" font-size="12.3" font-weight="700" fill="#98c79b" text-anchor="middle">G</text>
<circle cx="470.1" cy="869.2" r="8.9" fill="#fff" stroke="#cfcfcf" stroke-width="1.2"/>
<text x="470.1" y="872.7" font-size="12.8" font-weight="400" fill="#a9a9a9" stroke="#a9a9a9" stroke-width="0.3" text-anchor="middle">2</text>
<circle cx="485.2" cy="869.2" r="8.9" fill="#fff" stroke="#cfcfcf" stroke-width="1.2"/>
<circle cx="485.2" cy="869.2" r="6.6" fill="#b7e0b9"/>
<text x="485.2" y="872.7" font-size="12.8" font-weight="400" fill="#98c79b" stroke="#98c79b" stroke-width="0.3" text-anchor="middle">2</text>
<circle cx="500.8" cy="869.2" r="6.8" fill="#b9e1bb"/>
<circle cx="515.9" cy="869.2" r="8.9" fill="#fff" stroke="#cfcfcf" stroke-width="1.2"/>
<text x="515.9" y="872.7" font-size="12.8" font-weight="400" fill="#a9a9a9" stroke="#a9a9a9" stroke-width="0.3" text-anchor="middle">2</text>
<circle cx="547.2" cy="869.2" r="8.9" fill="#fff" stroke="#cfcfcf" stroke-width="1.2"/>
<text x="547.6" y="872.7" font-size="12.3" font-weight="700" fill="#a9a9a9" text-anchor="middle">G</text>
<circle cx="561.3" cy="869.2" r="8.9" fill="#fff" stroke="#cfcfcf" stroke-width="1.2"/>
<text x="561.3" y="872.7" font-size="12.8" font-weight="400" fill="#a9a9a9" stroke="#a9a9a9" stroke-width="0.3" text-anchor="middle">2</text>
<circle cx="576.9" cy="869.2" r="8.9" fill="#fff" stroke="#cfcfcf" stroke-width="1.2"/>
<text x="577.3" y="872.7" font-size="12.3" font-weight="700" fill="#a9a9a9" text-anchor="middle">G</text>
<circle cx="592.0" cy="869.2" r="6.8" fill="#b9e1bb"/>
<circle cx="607.6" cy="869.2" r="8.9" fill="#fff" stroke="#cfcfcf" stroke-width="1.2"/>
<text transform="translate(607.6,873.0) scale(0.83,1)" font-size="16.4" font-weight="400" fill="#a9a9a9" stroke="#a9a9a9" stroke-width="0.4" text-anchor="middle">a</text>
<circle cx="622.7" cy="869.2" r="8.9" fill="#fff" stroke="#cfcfcf" stroke-width="1.2"/>
<circle cx="622.7" cy="869.2" r="6.6" fill="#b7e0b9"/>
<text transform="translate(622.7,873.0) scale(0.83,1)" font-size="16.4" font-weight="400" fill="#98c79b" stroke="#98c79b" stroke-width="0.4" text-anchor="middle">a</text>
<circle cx="638.3" cy="869.2" r="8.9" fill="#fff" stroke="#cfcfcf" stroke-width="1.2"/>
<circle cx="638.3" cy="869.2" r="6.6" fill="#b7e0b9"/>
<text x="638.7" y="872.7" font-size="12.3" font-weight="700" fill="#98c79b" text-anchor="middle">G</text>
<circle cx="653.9" cy="869.2" r="8.9" fill="#fff" stroke="#cfcfcf" stroke-width="1.2"/>
<circle cx="653.9" cy="869.2" r="6.6" fill="#b7e0b9"/>
<text x="654.3" y="872.7" font-size="12.3" font-weight="700" fill="#98c79b" text-anchor="middle">G</text>
<circle cx="669.0" cy="869.2" r="15" fill="#4aa97a"/>
<circle cx="669.0" cy="869.2" r="8.5" fill="none" stroke="#41a072" stroke-width="1.1"/>
<text x="669.0" y="872.7" font-size="12.8" font-weight="400" fill="#2f8a5f" stroke="#2f8a5f" stroke-width="0.3" text-anchor="middle">2</text>
<circle cx="684.6" cy="869.2" r="9" fill="#fff" stroke="#d8d8d8" stroke-width="1"/>
<circle cx="684.6" cy="869.2" r="6.6" fill="#b7e0b9"/>
<text x="684.6" y="872.7" font-size="12.8" font-weight="400" fill="#98c79b" stroke="#98c79b" stroke-width="0.3" text-anchor="middle">2</text>
<circle cx="715.4" cy="869.2" r="8.9" fill="#fff" stroke="#cfcfcf" stroke-width="1.2"/>
<circle cx="715.4" cy="869.2" r="6.6" fill="#b7e0b9"/>
<text transform="translate(715.4,873.0) scale(0.83,1)" font-size="16.4" font-weight="400" fill="#98c79b" stroke="#98c79b" stroke-width="0.4" text-anchor="middle">a</text>
<circle cx="745.6" cy="869.2" r="8.9" fill="#fff" stroke="#cfcfcf" stroke-width="1.2"/>
<circle cx="745.6" cy="869.2" r="6.6" fill="#b7e0b9"/>
<text x="745.6" y="872.7" font-size="12.8" font-weight="400" fill="#98c79b" stroke="#98c79b" stroke-width="0.3" text-anchor="middle">3</text>
<circle cx="761.2" cy="869.2" r="6.8" fill="#b9e1bb"/>
<circle cx="791.9" cy="869.2" r="8.9" fill="#fff" stroke="#cfcfcf" stroke-width="1.2"/>
<text x="792.3" y="872.7" font-size="12.3" font-weight="700" fill="#a9a9a9" text-anchor="middle">G</text>
<circle cx="807.0" cy="869.2" r="6.8" fill="#b9e1bb"/>
<circle cx="822.6" cy="869.2" r="8.9" fill="#fff" stroke="#cfcfcf" stroke-width="1.2"/>
<text x="822.6" y="872.7" font-size="12.8" font-weight="400" fill="#a9a9a9" stroke="#a9a9a9" stroke-width="0.3" text-anchor="middle">2</text>
<circle cx="853.4" cy="869.2" r="8.9" fill="#fff" stroke="#cfcfcf" stroke-width="1.2"/>
<text transform="translate(853.4,873.0) scale(0.83,1)" font-size="16.4" font-weight="400" fill="#a9a9a9" stroke="#a9a9a9" stroke-width="0.4" text-anchor="middle">a</text>
<circle cx="869.0" cy="869.2" r="8.9" fill="#fff" stroke="#cfcfcf" stroke-width="1.2"/>
<text x="869.4" y="872.7" font-size="12.3" font-weight="700" fill="#a9a9a9" text-anchor="middle">G</text>
<circle cx="884.1" cy="869.2" r="12.3" fill="#7fc47b"/>
<circle cx="884.1" cy="869.2" r="8.5" fill="none" stroke="#74b970" stroke-width="1.1"/>
<text x="884.1" y="872.7" font-size="12.8" font-weight="400" fill="#63a95f" stroke="#63a95f" stroke-width="0.3" text-anchor="middle">2</text>
<circle cx="929.4" cy="869.2" r="8.9" fill="#fff" stroke="#cfcfcf" stroke-width="1.2"/>
<text x="929.8" y="872.7" font-size="12.3" font-weight="700" fill="#a9a9a9" text-anchor="middle">G</text>
<circle cx="945.0" cy="869.2" r="6.8" fill="#b9e1bb"/>
<circle cx="960.1" cy="869.2" r="6.8" fill="#b9e1bb"/>
<circle cx="975.7" cy="869.2" r="8.9" fill="#fff" stroke="#cfcfcf" stroke-width="1.2"/>
<circle cx="975.7" cy="869.2" r="6.6" fill="#b7e0b9"/>
<text x="976.1" y="872.7" font-size="12.3" font-weight="700" fill="#98c79b" text-anchor="middle">G</text>
<text x="133.5" y="892.9" font-size="13.75" fill="#a6a6a6" text-anchor="middle" letter-spacing="0.3">Nov 2020</text>
<text x="255.4" y="892.9" font-size="13.75" fill="#a6a6a6" text-anchor="middle" letter-spacing="0.3">Jul 2021</text>
<text x="377.7" y="892.9" font-size="13.75" fill="#a6a6a6" text-anchor="middle" letter-spacing="0.3">Mar 2022</text>
<text x="501.1" y="892.9" font-size="13.75" fill="#a6a6a6" text-anchor="middle" letter-spacing="0.3">Nov 2022</text>
<text x="623.0" y="892.9" font-size="13.75" fill="#a6a6a6" text-anchor="middle" letter-spacing="0.3">Jul 2023</text>
<text x="745.9" y="892.9" font-size="13.75" fill="#a6a6a6" text-anchor="middle" letter-spacing="0.3">Mar 2024</text>
<text x="869.3" y="892.9" font-size="13.75" fill="#a6a6a6" text-anchor="middle" letter-spacing="0.3">Nov 2024</text>
<text x="991.2" y="892.9" font-size="13.75" fill="#a6a6a6" text-anchor="middle" letter-spacing="0.3">Jul 2025</text>
</svg>
<div class="card" style="left:1096px;top:60px;width:537px;height:840px"></div>
<span class="t" style="left:1116px;top:81.00px;font-size:17.5px;font-weight:700;color:#2a2d31;">Referring domains</span>
<div class="bar" style="left:1116px;top:122px;width:434.4px;height:44px"></div>
<div class="rline" style="left:1116px;top:165px;width:497px"></div>
<span class="t" style="left:1126.3px;top:133.00px;font-size:17.5px;font-weight:400;color:#2a2d31;letter-spacing:0.3px;">Followed<i class="inf">i</i></span>
<span class="t" style="right:85.20000000000005px;text-align:right;top:133.00px;font-size:17.5px;font-weight:400;color:#0d4fa8;letter-spacing:0.5px;">222</span>
<span class="t" style="right:28.40000000000009px;text-align:right;top:133.00px;font-size:16.25px;font-weight:400;color:#7b7b7b;">87.4%</span>
<div class="bar" style="left:1116px;top:166px;width:62.6px;height:44px"></div>
<span class="t" style="left:1126.3px;top:177.00px;font-size:17.5px;font-weight:400;color:#2a2d31;letter-spacing:0.5px;">Not followed<i class="inf">i</i></span>
<span class="t" style="right:85.40000000000005px;text-align:right;top:177.00px;font-size:17.5px;font-weight:400;color:#2a2d31;letter-spacing:0.3px;">32</span>
<span class="t" style="right:28.750000000000092px;text-align:right;top:177.00px;font-size:16.25px;font-weight:400;color:#7b7b7b;letter-spacing:-0.35px;">12.6%</span>
<div class="rline" style="left:1116px;top:230px;width:497px"></div>
<span class="t" style="left:1116px;top:252.00px;font-size:17.5px;font-weight:700;color:#2a2d31;">Backlinks</span>
<div class="bar" style="left:1116px;top:293px;width:478.1px;height:44px"></div>
<div class="rline" style="left:1116px;top:336px;width:497px"></div>
<span class="t" style="left:1126.3px;top:304.00px;font-size:17.5px;font-weight:400;color:#2a2d31;letter-spacing:0.3px;">Followed<i class="inf">i</i></span>
<span class="t" style="right:85.50000000000004px;text-align:right;top:304.00px;font-size:17.5px;font-weight:400;color:#0d4fa8;letter-spacing:0.2px;">7,825</span>
<span class="t" style="right:28.40000000000009px;text-align:right;top:304.00px;font-size:16.25px;font-weight:400;color:#7b7b7b;">96.2%</span>
<div class="bar" style="left:1116px;top:337px;width:18.9px;height:44px"></div>
<div class="rline" style="left:1116px;top:380px;width:497px"></div>
<span class="t" style="left:1126.3px;top:348.00px;font-size:17.5px;font-weight:400;color:#2a2d31;letter-spacing:0.5px;">Not followed<i class="inf">i</i></span>
<span class="t" style="right:85.30000000000004px;text-align:right;top:348.00px;font-size:17.5px;font-weight:400;color:#2a2d31;letter-spacing:0.4px;">308</span>
<span class="t" style="right:28.40000000000009px;text-align:right;top:348.00px;font-size:16.25px;font-weight:400;color:#7b7b7b;">3.8%</span>
<div class="bar" style="left:1116px;top:381px;width:18.9px;height:44px"></div>
<div class="rline" style="left:1116px;top:424px;width:497px"></div>
<div class="dot" style="left:1134px;top:400.05px"></div>
<span class="t" style="left:1159px;top:392.00px;font-size:17.5px;font-weight:400;color:#2a2d31;letter-spacing:0.55px;">Nofollow<i class="inf">i</i></span>
<span class="t" style="right:85.30000000000004px;text-align:right;top:392.00px;font-size:17.5px;font-weight:400;color:#0d4fa8;letter-spacing:0.4px;">308</span>
<span class="t" style="right:28.40000000000009px;text-align:right;top:392.00px;font-size:16.25px;font-weight:400;color:#7b7b7b;">3.8%</span>
<div class="rline" style="left:1116px;top:467px;width:497px"></div>
<div class="dot" style="left:1134px;top:443.80px"></div>
<span class="t" style="left:1159px;top:436.00px;font-size:17.5px;font-weight:400;color:#2a2d31;letter-spacing:-0.3px;">UGC<i class="inf">i</i></span>
<span class="t" style="right:85.70000000000005px;text-align:right;top:436.00px;font-size:17.5px;font-weight:400;color:#0d4fa8;">0</span>
<span class="t" style="right:28.40000000000009px;text-align:right;top:436.00px;font-size:16.25px;font-weight:400;color:#7b7b7b;">0%</span>
<div class="dot" style="left:1134px;top:487.55px"></div>
<span class="t" style="left:1159px;top:479.00px;font-size:17.5px;font-weight:400;color:#2a2d31;letter-spacing:0.3px;">Sponsored<i class="inf">i</i></span>
<span class="t" style="right:85.70000000000005px;text-align:right;top:479.00px;font-size:17.5px;font-weight:400;color:#0d4fa8;">0</span>
<span class="t" style="right:28.40000000000009px;text-align:right;top:479.00px;font-size:16.25px;font-weight:400;color:#7b7b7b;">0%</span>
<div class="pill" style="left:1116px;top:533px;width:66px;height:25px"></div>
<span class="t" style="left:1126.0px;top:535.00px;font-size:16.5px;font-weight:700;color:#2a2d31;letter-spacing:-0.7px;">By UR</span>
<span class="t" style="left:1192.6px;top:535.00px;font-size:16.5px;font-weight:700;color:#2a2d31;letter-spacing:-0.8px;">By DR</span>
<div class="bar" style="left:1116px;top:573px;width:497.0px;height:44px"></div>
<div class="rline" style="left:1116px;top:616px;width:497px"></div>
<span class="t" style="left:1126.3px;top:584.00px;font-size:17.5px;font-weight:400;color:#2a2d31;letter-spacing:-1.25px;">10–19</span>
<span class="t" style="right:85.70000000000005px;text-align:right;top:584.00px;font-size:17.5px;font-weight:400;color:#2a2d31;">39</span>
<span class="t" style="right:28.40000000000009px;text-align:right;top:584.00px;font-size:16.25px;font-weight:400;color:#7b7b7b;">0.5%</span>
<div class="bar" style="left:1116px;top:617px;width:75.8px;height:44px"></div>
<div class="rline" style="left:1116px;top:660px;width:497px"></div>
<span class="t" style="left:1126.3px;top:628.00px;font-size:17.5px;font-weight:400;color:#2a2d31;letter-spacing:0.4px;">20–29</span>
<span class="t" style="right:85.70000000000005px;text-align:right;top:628.00px;font-size:17.5px;font-weight:400;color:#2a2d31;">6</span>
<span class="t" style="right:29.15000000000009px;text-align:right;top:628.00px;font-size:16.25px;font-weight:400;color:#7b7b7b;letter-spacing:-0.75px;">&lt;0.1%</span>
<div class="bar" style="left:1116px;top:661px;width:37.9px;height:44px"></div>
<div class="rline" style="left:1116px;top:704px;width:497px"></div>
<span class="t" style="left:1126.3px;top:672.00px;font-size:17.5px;font-weight:400;color:#2a2d31;letter-spacing:0.4px;">30–39</span>
<span class="t" style="right:85.70000000000005px;text-align:right;top:672.00px;font-size:17.5px;font-weight:400;color:#2a2d31;">3</span>
<span class="t" style="right:29.15000000000009px;text-align:right;top:672.00px;font-size:16.25px;font-weight:400;color:#7b7b7b;letter-spacing:-0.75px;">&lt;0.1%</span>
<div class="rline" style="left:1116px;top:747px;width:497px"></div>
<span class="t" style="left:1126.3px;top:716.00px;font-size:17.5px;font-weight:400;color:#2a2d31;letter-spacing:0.4px;">40–49</span>
<span class="t" style="right:85.70000000000005px;text-align:right;top:716.00px;font-size:17.5px;font-weight:400;color:#2a2d31;">0</span>
<span class="t" style="right:28.40000000000009px;text-align:right;top:716.00px;font-size:16.25px;font-weight:400;color:#7b7b7b;">0%</span>
<div class="rline" style="left:1116px;top:791px;width:497px"></div>
<span class="t" style="left:1126.3px;top:759.00px;font-size:17.5px;font-weight:400;color:#2a2d31;letter-spacing:0.4px;">50–59</span>
<span class="t" style="right:85.70000000000005px;text-align:right;top:759.00px;font-size:17.5px;font-weight:400;color:#2a2d31;">0</span>
<span class="t" style="right:28.40000000000009px;text-align:right;top:759.00px;font-size:16.25px;font-weight:400;color:#7b7b7b;">0%</span>
<div class="rline" style="left:1116px;top:835px;width:497px"></div>
<span class="t" style="left:1126.3px;top:803.00px;font-size:17.5px;font-weight:400;color:#2a2d31;letter-spacing:0.4px;">60–69</span>
<span class="t" style="right:85.70000000000005px;text-align:right;top:803.00px;font-size:17.5px;font-weight:400;color:#2a2d31;">0</span>
<span class="t" style="right:28.40000000000009px;text-align:right;top:803.00px;font-size:16.25px;font-weight:400;color:#7b7b7b;">0%</span>
<div class="rline" style="left:1116px;top:879px;width:497px"></div>
<span class="t" style="left:1126.3px;top:847.00px;font-size:17.5px;font-weight:400;color:#2a2d31;letter-spacing:0.4px;">70–79</span>
<span class="t" style="right:85.70000000000005px;text-align:right;top:847.00px;font-size:17.5px;font-weight:400;color:#2a2d31;">0</span>
<span class="t" style="right:28.40000000000009px;text-align:right;top:847.00px;font-size:16.25px;font-weight:400;color:#7b7b7b;">0%</span>
<div class="rline" style="left:1116px;top:922px;width:497px"></div>
<span class="t" style="left:1126.3px;top:891.00px;font-size:17.5px;font-weight:400;color:#2a2d31;letter-spacing:0.4px;">80–89</span>
<span class="t" style="right:85.70000000000005px;text-align:right;top:891.00px;font-size:17.5px;font-weight:400;color:#2a2d31;">0</span>
<span class="t" style="right:28.40000000000009px;text-align:right;top:891.00px;font-size:16.25px;font-weight:400;color:#7b7b7b;">0%</span>
<div class="help"><span>?</span></div>
</body></html>
